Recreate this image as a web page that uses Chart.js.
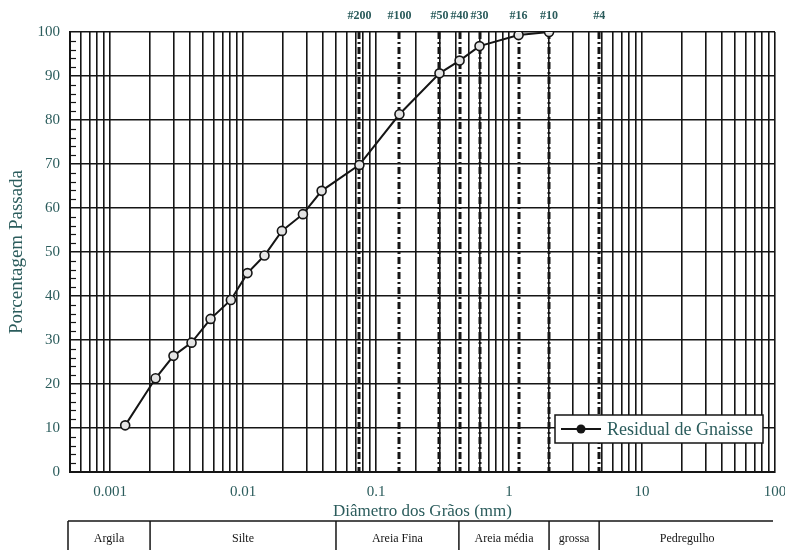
<!DOCTYPE html>
<html>
<head>
<meta charset="utf-8">
<script src="https://cdn.jsdelivr.net/npm/chart.js@4.4.1/dist/chart.umd.min.js"></script>
<style>
  html, body { margin: 0; padding: 0; background: #fff; }
  #wrap { width: 785px; height: 550px; }
</style>
</head>
<body>
<div id="wrap"><canvas id="chart"></canvas></div>
<script>
// Grain size distribution (mm) and percent passing
const grainSizes = [0.0013, 0.0022, 0.0030, 0.0041, 0.0057, 0.0081, 0.0108, 0.0145, 0.0196, 0.0282, 0.039, 0.075, 0.15, 0.30, 0.425, 0.60, 1.18, 2.0];
const percentPassing = [10.6, 21.3, 26.4, 29.4, 34.8, 39.1, 45.2, 49.2, 54.8, 58.6, 63.9, 69.8, 81.3, 90.6, 93.5, 96.8, 99.3, 100];
const seriesName = 'Residual de Gnaisse';

// sieve openings shown as dash-dot lines
const sieveNames = ['#200', '#100', '#50', '#40', '#30', '#16', '#10', '#4'];
const sieveSizes = [0.075, 0.15, 0.30, 0.425, 0.60, 1.18, 2.0, 4.76];

// tick labels
const xTickValues = [0.001, 0.01, 0.1, 1, 10, 100];
const xTickLabels = ['0.001', '0.01', '0.1', '1', '10', '100'];

// classification strip under the chart
const soilClasses = ['Argila', 'Silte', 'Areia Fina', 'Areia média', 'grossa', 'Pedregulho'];
const soilLimits = [0.0005, 0.002, 0.05, 0.42, 2.0, 4.76, 100];

const TEXT = '#2b5c5c';
const INK = '#151515';
const SERIF = '"Liberation Serif", "DejaVu Serif", serif';

const extras = {
  id: 'extras',
  beforeDatasetsDraw(chart) {
    const { ctx, chartArea: a, scales: { x } } = chart;
    ctx.save();
    ctx.strokeStyle = INK;
    ctx.lineWidth = 3;
    ctx.setLineDash([7, 3, 2, 3]);
    sieveSizes.forEach((s) => {
      const px = Math.round(x.getPixelForValue(s));
      ctx.beginPath();
      ctx.moveTo(px, a.top);
      ctx.lineTo(px, a.bottom);
      ctx.stroke();
    });
    ctx.restore();
  },
  afterDraw(chart) {
    const { ctx, chartArea: a, scales: { x, y } } = chart;
    ctx.save();

    // sieve names above the plot
    ctx.fillStyle = TEXT;
    ctx.font = 'bold 12px ' + SERIF;
    ctx.textAlign = 'center';
    ctx.textBaseline = 'middle';
    sieveNames.forEach((n, i) => {
      ctx.fillText(n, x.getPixelForValue(sieveSizes[i]), 16);
    });

    // minor ticks on the left border
    ctx.strokeStyle = INK;
    ctx.lineWidth = 1.2;
    for (let v = 2; v < 100; v += 2) {
      if (v % 10 === 0) continue;
      const py = Math.round(y.getPixelForValue(v)) + 0.5;
      ctx.beginPath();
      ctx.moveTo(a.left, py);
      ctx.lineTo(a.left + 6, py);
      ctx.stroke();
    }

    // legend box
    const lx = 555, ly = 415, lw = 208, lh = 28;
    ctx.fillStyle = '#fff';
    ctx.fillRect(lx, ly, lw, lh);
    ctx.strokeStyle = INK;
    ctx.lineWidth = 1.5;
    ctx.strokeRect(lx, ly, lw, lh);
    ctx.lineWidth = 2;
    ctx.beginPath();
    ctx.moveTo(lx + 6, ly + lh / 2);
    ctx.lineTo(lx + 46, ly + lh / 2);
    ctx.stroke();
    ctx.fillStyle = INK;
    ctx.beginPath();
    ctx.arc(lx + 26, ly + lh / 2, 4.5, 0, Math.PI * 2);
    ctx.fill();
    ctx.fillStyle = TEXT;
    ctx.font = '18px ' + SERIF;
    ctx.textAlign = 'left';
    ctx.fillText(seriesName, lx + 52, ly + lh / 2 + 1);

    // classification strip
    const top = 521, bot = 550;
    const xl = x.getPixelForValue(soilLimits[0]) - 2;
    const xr = x.getPixelForValue(soilLimits[soilLimits.length - 1]) - 2;
    ctx.strokeStyle = INK;
    ctx.lineWidth = 1.5;
    ctx.beginPath();
    ctx.moveTo(xl, top);
    ctx.lineTo(xr, top);
    ctx.stroke();
    ctx.fillStyle = INK;
    ctx.font = '12px ' + SERIF;
    ctx.textAlign = 'center';
    soilClasses.forEach((c, i) => {
      const x0 = i === 0 ? xl : x.getPixelForValue(soilLimits[i]);
      const x1 = x.getPixelForValue(soilLimits[i + 1]);
      ctx.beginPath();
      ctx.moveTo(x0, top);
      ctx.lineTo(x0, bot);
      ctx.stroke();
      ctx.fillText(c, (x0 + x1) / 2, 539);
    });
    ctx.restore();
  }
};

new Chart(document.getElementById('chart'), {
  type: 'scatter',
  data: {
    datasets: [{
      label: seriesName,
      data: grainSizes.map((g, i) => ({ x: g, y: percentPassing[i] })),
      showLine: true,
      borderColor: INK,
      borderWidth: 2,
      pointRadius: 4.5,
      pointBorderWidth: 1.6,
      pointBackgroundColor: '#e4e4e4',
      pointBorderColor: INK
    }]
  },
  options: {
    responsive: true,
    maintainAspectRatio: false,
    animation: false,
    layout: { padding: { top: 32, right: 10, left: 0, bottom: 0 } },
    plugins: {
      legend: { display: false },
      tooltip: { enabled: false }
    },
    scales: {
      x: {
        type: 'logarithmic',
        min: 0.0005,
        max: 100,
        afterFit(axis) {
          axis.height = 78;
          axis.paddingRight = 0;
          axis.paddingLeft = 0;
        },
        afterBuildTicks(axis) {
          const ticks = [];
          for (let e = -4; e <= 2; e++) {
            for (let m = 1; m <= 9; m++) {
              const v = m * Math.pow(10, e);
              if (v >= 0.0005 * 0.999 && v <= 100 * 1.001) ticks.push({ value: v });
            }
          }
          axis.ticks = ticks;
        },
        ticks: {
          autoSkip: false,
          maxRotation: 0,
          padding: 11,
          color: TEXT,
          font: { family: SERIF, size: 15 },
          callback(value) {
            const i = xTickValues.findIndex((t) => Math.abs(Math.log10(t) - Math.log10(value)) < 1e-6);
            return i >= 0 ? xTickLabels[i] : '';
          }
        },
        grid: { color: INK, lineWidth: 1.6, drawTicks: false },
        border: { color: INK, width: 2 },
        title: {
          display: true,
          text: 'Diâmetro dos Grãos (mm)',
          color: TEXT,
          font: { family: SERIF, size: 17 },
          padding: { top: 0, bottom: 28 }
        }
      },
      y: {
        min: 0,
        max: 100,
        afterFit(axis) { axis.width = 70; },
        ticks: {
          stepSize: 10,
          padding: 10,
          color: TEXT,
          font: { family: SERIF, size: 15 }
        },
        grid: { color: INK, lineWidth: 1.6, drawTicks: false },
        border: { color: INK, width: 2 },
        title: {
          display: true,
          text: 'Porcentagem Passada',
          color: TEXT,
          font: { family: SERIF, size: 19 },
          padding: { top: 6, bottom: 0 }
        }
      }
    }
  },
  plugins: [extras]
});
</script>
</body>
</html>
